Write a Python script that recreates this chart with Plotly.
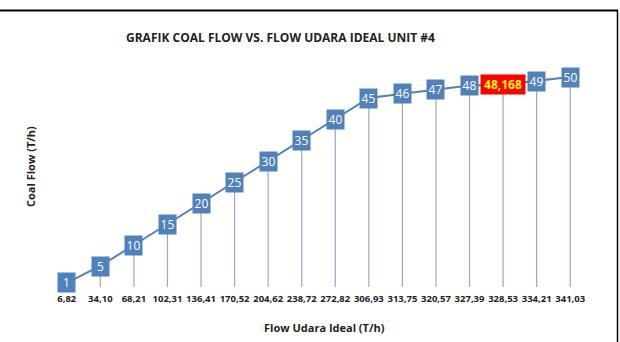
import plotly.graph_objects as go

flow_labels = ["6,82", "34,10", "68,21", "102,31", "136,41", "170,52", "204,62", "238,72",
               "272,82", "306,93", "313,75", "320,57", "327,39", "328,53", "334,21", "341,03"]
coal_flow = [1, 5, 10, 15, 20, 25, 30, 35, 40, 45, 46, 47, 48, 48.168, 49, 50]
highlight_index = 13

W, H = 620, 342
ML, MR, MT, MB = 50, 33, 56, 55
pw, ph = W - ML - MR, H - MT - MB

def fmt(v):
    s = ("%g" % v)
    return s.replace(".", ",")

xs = list(range(len(coal_flow)))

# drop lines
dx, dy = [], []
for i, v in zip(xs, coal_flow):
    dx += [i, i, None]
    dy += [v, 0, None]

fig = go.Figure()
fig.add_trace(go.Scatter(x=dx, y=dy, mode="lines",
                         line=dict(color="#a3a3c2", width=1.2), hoverinfo="skip"))
fig.add_trace(go.Scatter(x=xs, y=coal_flow, mode="lines",
                         line=dict(color="#4F81BD", width=2), hoverinfo="skip"))

anns = []
for i, v in zip(xs, coal_flow):
    hl = (i == highlight_index)
    anns.append(dict(
        x=i, y=v, xref="x", yref="y", text="<b>%s</b>" % fmt(v) if hl else fmt(v), showarrow=False,
        font=dict(family="Open Sans", size=12, color="#FFFF00" if hl else "white"),
        bgcolor="#FF0000" if hl else "#4F81BD",
        width=42 if hl else 15, height=17, borderpad=1,
        xanchor="center", yanchor="middle"))

anns.append(dict(text="<b>GRAFIK COAL FLOW VS. FLOW UDARA IDEAL UNIT #4</b>",
                 xref="paper", yref="paper",
                 x=(280 - ML) / pw, y=(H - MB - 37) / ph,
                 showarrow=False, xanchor="center", yanchor="middle",
                 font=dict(family="Open Sans", size=12, color="#222222")))
anns.append(dict(text="<b>Flow Udara Ideal (T/h)</b>", xref="paper", yref="paper",
                 x=(324 - ML) / pw, y=(H - MB - 327) / ph,
                 showarrow=False, xanchor="center", yanchor="middle",
                 font=dict(family="Open Sans", size=11, color="#222222")))
anns.append(dict(text="<b>Coal Flow (T/h)</b>", xref="paper", yref="paper",
                 x=(30 - ML) / pw, y=(H - MB - 167) / ph, textangle=-90,
                 showarrow=False, xanchor="center", yanchor="middle",
                 font=dict(family="Open Sans", size=11, color="#222222")))

def px_x(p):
    return (p - ML) / pw

def px_y(p):
    return (H - MB - p) / ph

shapes = [
    dict(type="line", xref="paper", yref="paper", x0=px_x(0), x1=px_x(618),
         y0=px_y(10.5), y1=px_y(10.5), line=dict(color="black", width=2)),
    dict(type="line", xref="paper", yref="paper", x0=px_x(617.5), x1=px_x(617.5),
         y0=px_y(10.5), y1=px_y(345), line=dict(color="black", width=1.5)),
]

fig.update_layout(
    width=W, height=H, margin=dict(l=ML, r=MR, t=MT, b=MB),
    plot_bgcolor="white", paper_bgcolor="white", showlegend=False,
    annotations=anns, shapes=shapes,
    xaxis=dict(tickmode="array", tickvals=xs, ticktext=["<b>%s</b>" % t for t in flow_labels],
               range=[-0.5, len(xs) - 0.5], showgrid=False, zeroline=False,
               showline=False, ticks="", ticklabelstandoff=4,
               tickfont=dict(family="Open Sans", size=9.5, color="#222222")),
    yaxis=dict(range=[0, 55], visible=False),
)

fig.write_html("out.html")
